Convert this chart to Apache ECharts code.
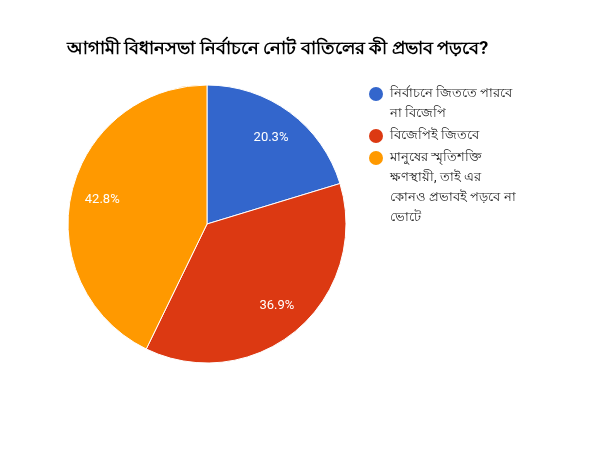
<!DOCTYPE html>
<html>
<head>
<meta charset="utf-8">
<script src="https://cdn.jsdelivr.net/npm/echarts@6/dist/echarts.min.js"></script>
<style>
  html, body { margin: 0; padding: 0; background: #fff; }
  #main { width: 600px; height: 450px; }
</style>
</head>
<body>
<div id="main"></div>
<script>
const titleText = "আগামী বিধানসভা নির্বাচনে নোট বাতিলের কী প্রভাব পড়বে?";
const categories = [
  "নির্বাচনে জিততে পারবে না বিজেপি",
  "বিজেপিই জিতবে",
  "মানুষের স্মৃতিশক্তি ক্ষণস্থায়ী, তাই এর কোনও প্রভাবই পড়বে না ভোটে",
];
// how the legend wraps each name
const legendLines = [
  ["নির্বাচনে জিততে পারবে", "না বিজেপি"],
  ["বিজেপিই জিতবে"],
  ["মানুষের স্মৃতিশক্তি", "ক্ষণস্থায়ী, তাই এর", "কোনও প্রভাবই পড়বে না", "ভোটে"],
];
const values = [20.3, 36.9, 42.8];
const colors = ["#3366cc", "#dc3912", "#ff9900"];

const fontFamily = "Roboto, Arial, 'Noto Sans', sans-serif";

const pieData = categories.map(function (name, i) {
  return { name: name, value: values[i], itemStyle: { color: colors[i] } };
});

// legend dots are drawn as rich text so they sit on the first line
const legendRich = {
  gap: { width: 7, lineHeight: 20 },
  ind: { width: 21, lineHeight: 20 },
};
colors.forEach(function (c, i) {
  legendRich["dot" + i] = {
    width: 14,
    height: 14,
    borderRadius: 7,
    backgroundColor: c,
    lineHeight: 20,
  };
});

const chart = echarts.init(document.getElementById("main"));

const option = {
  backgroundColor: "#ffffff",
  animation: false,
  title: {
    text: titleText,
    left: 62,
    top: 35,
    textStyle: {
      fontFamily: fontFamily,
      fontSize: 18,
      fontWeight: "bold",
      color: "#000000",
    },
  },
  legend: {
    orient: "vertical",
    left: 364,
    top: 84,
    padding: 0,
    itemWidth: 0,
    itemHeight: 14,
    itemGap: 2,
    icon: "none",
    data: categories,
    formatter: function (name) {
      const i = categories.indexOf(name);
      return legendLines[i]
        .map(function (line, j) {
          return (j === 0 ? "{dot" + i + "|}{gap|}" : "{ind|}") + line;
        })
        .join("\n");
    },
    textStyle: {
      fontFamily: fontFamily,
      fontSize: 13,
      color: "#222222",
      lineHeight: 20,
      rich: legendRich,
    },
  },
  series: [
    {
      type: "pie",
      center: [207, 224],
      radius: [0, 139],
      startAngle: 90,
      clockwise: true,
      data: pieData,
      label: { show: false },
      labelLine: { show: false },
      itemStyle: { borderColor: "#ffffff", borderWidth: 1 },
      emphasis: { disabled: true },
    },
    {
      // transparent ring used only to place the percentage labels
      type: "pie",
      center: [207, 224],
      radius: [70, 139],
      startAngle: 90,
      clockwise: true,
      silent: true,
      legendHoverLink: false,
      data: pieData.map(function (d) {
        return { name: d.name, value: d.value, itemStyle: { color: "rgba(0,0,0,0)" } };
      }),
      itemStyle: { borderWidth: 0 },
      label: {
        show: true,
        position: "inside",
        formatter: function (p) {
          return p.value.toFixed(1) + "%";
        },
        color: "#ffffff",
        fontFamily: fontFamily,
        fontSize: 13,
      },
      labelLine: { show: false },
      emphasis: { disabled: true },
    },
  ],
};

chart.setOption(option);
</script>
</body>
</html>
